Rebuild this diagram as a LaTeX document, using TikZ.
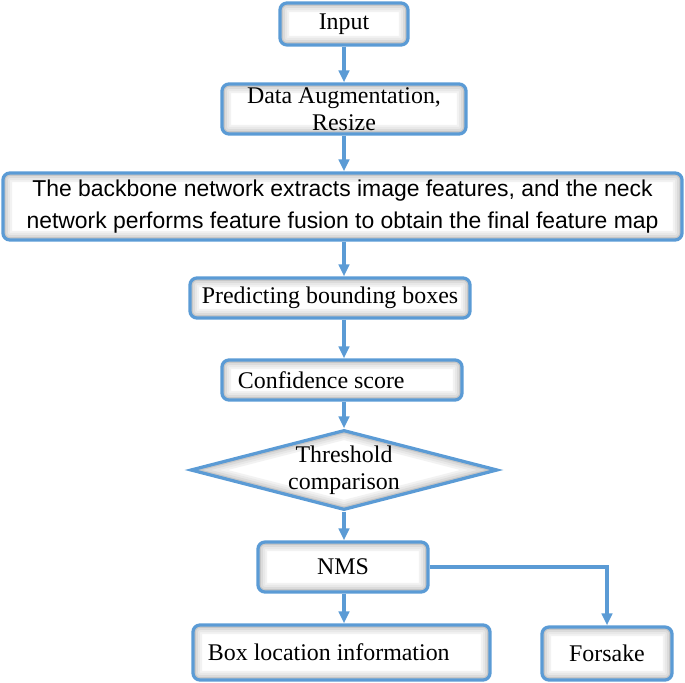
\documentclass[tikz,border=0pt]{standalone}
\usepackage{fontspec}
\setmainfont{Liberation Serif}
\newfontfamily\blurbfont{Liberation Sans}
\usetikzlibrary{positioning, shapes.geometric, arrows.meta}
\definecolor{lineBlue}{HTML}{5B9BD5}

\begin{document}
\begin{tikzpicture}[
    x=0.025cm, y=-0.025cm,
    every node/.style={font=\fontsize{17}{19.5}\selectfont},
    boxstyle/.style={
        draw=lineBlue,
        line width=2.3pt,
        rounded corners=5pt,
        fill=white,
        align=center,
        inner sep=2pt,
        path picture={
            \foreach \w/\c in {13pt/5, 10pt/9, 7pt/14, 4pt/22}
                \draw[black!\c, line width=\w, rounded corners=5pt]
                    (path picture bounding box.south west) rectangle
                    (path picture bounding box.north east);
        },
    },
    decision/.style={
        diamond,
        draw=lineBlue,
        line width=2.3pt,
        fill=white,
        align=center,
        inner sep=0pt,
        shape aspect=3.8,
        path picture={
            \foreach \w/\c in {13pt/5, 10pt/9, 7pt/14, 4pt/22}
                \draw[black!\c, line width=\w]
                    (path picture bounding box.west) -- (path picture bounding box.north) --
                    (path picture bounding box.east) -- (path picture bounding box.south) -- cycle;
        },
    },
    flow/.style={
        -{Triangle[length=3mm, width=2.6mm]},
        line width=2.3pt,
        color=lineBlue,
    },
]

\useasboundingbox (0,0) rectangle (685,683);

\node[boxstyle, minimum width=3.2cm, minimum height=1.05cm] (input) at (344,24) {Input};

\node[boxstyle, minimum width=6.1cm, minimum height=1.25cm] (augment) at (344,109) {
    Data Augmentation,\\Resize};

\node[boxstyle, minimum width=16.975cm, minimum height=1.675cm,
      font=\blurbfont\fontsize{16.3}{23}\selectfont] (backbone) at (342.5,206.5) {
    The backbone network extracts image features, and the neck\\
    network performs feature fusion to obtain the final feature map};

\node[boxstyle, minimum width=7cm, minimum height=1cm] (predict) at (330,298) {
    Predicting bounding boxes};

\node[boxstyle, align=flush left, text width=5.2cm, inner xsep=0.4cm,
      minimum height=1cm] (confid) at (342,380) {Confidence score};

\node[decision, minimum width=7.675cm, minimum height=2cm] (thresh) at (344,470) {
    Threshold\\comparison};

\node[boxstyle, minimum width=4.25cm, minimum height=1.25cm] (nms) at (343,567) {NMS};

\node[boxstyle, align=flush left, text width=6.675cm, inner xsep=0.375cm,
      minimum height=1.375cm] (boxloc) at (341.5,652.5) {Box location information};

\node[boxstyle, minimum width=3.25cm, minimum height=1.325cm] (forsake) at (607,653.5) {Forsake};

\draw[flow] (input.south) -- (augment.north -| input.south);
\draw[flow] (augment.south -| input.south) -- (backbone.north -| input.south);
\draw[flow] (backbone.south -| input.south) -- (predict.north -| input.south);
\draw[flow] (predict.south -| input.south) -- (confid.north -| input.south);
\draw[flow] (confid.south -| input.south) -- (thresh.north);
\draw[flow] (thresh.south) -- (nms.north -| thresh.south);
\draw[flow] (nms.south -| thresh.south) -- (boxloc.north -| thresh.south);
\draw[flow] (nms.east) -| (forsake.north);

\end{tikzpicture}
\end{document}
